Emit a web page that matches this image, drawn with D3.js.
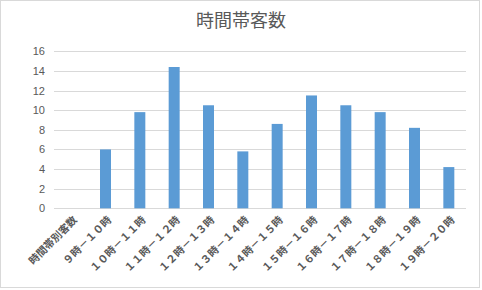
<!DOCTYPE html>
<html>
<head>
<meta charset="utf-8">
<script src="https://cdn.jsdelivr.net/npm/d3@7"></script>
<style>
  body { margin: 0; background: #fff; }
  svg text { font-family: "Noto Sans CJK JP", "Noto Sans", sans-serif; fill: #595959; }
</style>
</head>
<body>
<svg id="chart" width="482" height="290"></svg>
<script>
// data
const categories = ['時間帯別客数', '９時－１０時', '１０時－１１時', '１１時－１２時', '１２時－１３時', '１３時－１４時',
                    '１４時－１５時', '１５時－１６時', '１６時－１７時', '１７時－１８時', '１８時－１９時', '１９時－２０時'];
const values = [0, 6.0, 9.8, 14.4, 10.5, 5.8, 8.6, 11.5, 10.5, 9.8, 8.2, 4.2];
const yTicks = [0, 2, 4, 6, 8, 10, 12, 14, 16];
const chartTitle = '時間帯客数';

const svg = d3.select('#chart');
const plotLeft = 54, plotRight = 466, plotTop = 51.3, plotBottom = 208.3;

// chart border
svg.append('rect')
  .attr('x', 0.5).attr('y', 0.5)
  .attr('width', 479).attr('height', 287)
  .attr('fill', '#fff').attr('stroke', '#d9d9d9');

// title
svg.append('text')
  .attr('x', 241).attr('y', 27)
  .attr('text-anchor', 'middle')
  .style('font-size', '18px')
  .text(chartTitle);

const xScale = d3.scaleBand()
  .domain(categories)
  .range([plotLeft, plotRight])
  .paddingInner(0.68).paddingOuter(0.34);

const yScale = d3.scaleLinear()
  .domain([0, 16])
  .range([plotBottom, plotTop]);

// grid lines
svg.append('g')
  .selectAll('line')
  .data(yTicks)
  .enter()
  .append('line')
  .attr('x1', plotLeft).attr('x2', plotRight)
  .attr('y1', d => Math.round(yScale(d)) + 0.5)
  .attr('y2', d => Math.round(yScale(d)) + 0.5)
  .attr('stroke', '#d9d9d9').attr('stroke-width', 1);

// y axis labels
const yAxis = svg.append('g')
  .attr('transform', `translate(${plotLeft - 9}, 0)`)
  .call(d3.axisLeft(yScale).tickValues(yTicks).tickSize(0).tickPadding(0));
yAxis.select('.domain').remove();
yAxis.selectAll('text')
  .style('font-size', '11px')
  .style('font-family', '"Liberation Sans", "DejaVu Sans", sans-serif')
  .attr('fill', '#595959');

// bars
svg.append('g')
  .selectAll('.bar')
  .data(values)
  .enter()
  .append('rect')
  .attr('class', 'bar')
  .attr('x', (d, i) => xScale(categories[i]))
  .attr('y', d => yScale(d))
  .attr('width', xScale.bandwidth())
  .attr('height', d => yScale(0) - yScale(d))
  .attr('fill', '#5b9bd5');

// x labels (rotated)
svg.append('g')
  .selectAll('text')
  .data(categories)
  .enter()
  .append('text')
  .attr('transform', d => `translate(${xScale(d) + xScale.bandwidth() / 2 + 4}, 218) rotate(-45)`)
  .attr('text-anchor', 'end')
  .attr('dy', '0.35em')
  .style('font-size', '10.5px')
  .style('font-weight', 'bold')
  .text(d => d);
</script>
</body>
</html>
